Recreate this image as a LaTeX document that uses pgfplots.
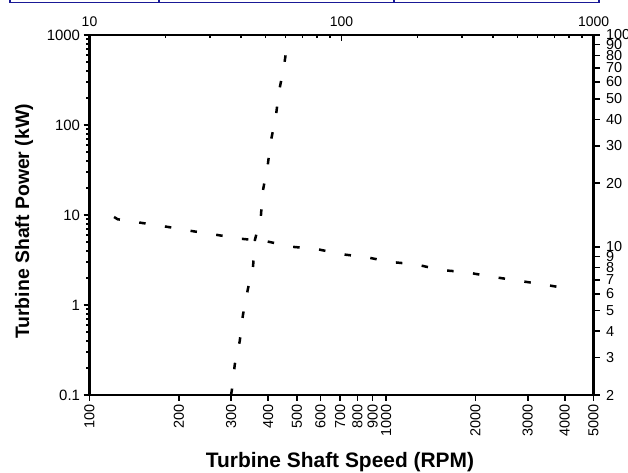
\documentclass[border=0pt]{standalone}
\usepackage{fontspec}
\setmainfont{Liberation Sans}
\usepackage{pgfplots}
\pgfplotsset{compat=1.18}
\definecolor{boxblue}{RGB}{25,25,150}

\begin{document}
\begin{tikzpicture}[x=1bp,y=1bp]
\path[use as bounding box] (0,0) rectangle (628,473);
% frame left over from the page
\draw[boxblue, line width=1.2bp] (10,473) -- (10,470.5) -- (599,470.5) -- (599,473);
\draw[boxblue, line width=1.2bp] (159,473) -- (159,470.5) (394,473) -- (394,470.5);

% speed (bottom) and power (left)
\begin{axis}[
  at={(89.5bp,78bp)}, anchor=south west,
  scale only axis, width=504bp, height=360bp,
  xmode=log, ymode=log,
  axis line style={line width=2.4bp},
  every tick/.style={black, line width=1.6bp},
  major tick length=6bp, minor tick length=3.5bp,
  /pgf/number format/assume math mode=true,
  xmin=100, xmax=5000, ymin=0.1, ymax=1000,
  axis x line*=bottom, axis y line*=left,
  tick align=outside,
  xtick={100,200,300,400,500,600,700,800,900,1000,2000,3000,4000,5000},
  xticklabels={100,200,300,400,500,600,700,800,900,1000,2000,3000,4000,5000},
  minor xtick={},
  x tick label style={rotate=90, anchor=east, font=\fontsize{14.5}{16}\selectfont},
  ytick={0.1,1,10,100,1000},
  yticklabels={0.1,1,10,100,1000},
  y tick label style={font=\fontsize{15}{17}\selectfont},
  xlabel={Turbine Shaft Speed (RPM)},
  xlabel style={font=\fontsize{21}{24}\selectfont\bfseries,
    at={(axis description cs:0.497,-0.185)}, anchor=center},
  ylabel={Turbine Shaft Power (kW)},
  ylabel style={font=\fontsize{19.5}{22}\selectfont\bfseries,
    at={(axis description cs:-0.13,0.482)}, anchor=center},
]
\addplot[black, line width=2.5bp, dash pattern=on 6.5bp off 19.5bp] coordinates {
  (300,0.1) (302,0.114) (309,0.221) (321,0.398) (329,0.774) (342,1.51)
  (356,2.71) (361,5.27) (378,9.5) (384,18.5) (399,35.9) (408,64.7)
  (425,126) (435,233) (452,441) (466,880) (473,950)
};
\addplot[black, line width=2.5bp, dash pattern=on 6.5bp off 19.5bp] coordinates {
  (121,9.5) (124.5,8.96) (150.6,8.15) (184.2,7.36) (220.9,6.64) (270.3,5.99)
  (323.8,5.45) (395.3,5.1) (479.7,4.44) (582.4,4.19) (710.3,3.66)
  (851.7,3.41) (1042,3.0) (1258,2.83) (1527,2.45) (1865,2.31)
  (2234,2.08) (2733,1.88) (3317,1.71) (4017,1.54) (4150,1.52)
};
\end{axis}

% top scale
\begin{axis}[
  at={(89.5bp,78bp)}, anchor=south west,
  scale only axis, width=504bp, height=360bp,
  xmode=log, ymode=log,
  axis line style={line width=2.4bp},
  every tick/.style={black, line width=1.6bp},
  major tick length=6bp, minor tick length=3.5bp,
  /pgf/number format/assume math mode=true,
  xmin=10, xmax=1000, ymin=2, ymax=100,
  axis x line*=top, hide y axis,
  tick align=inside,
  xtick={10,100,1000}, xticklabels={10,100,1000},
  minor xtick={20,30,40,50,60,70,80,90,200,300,400,500,600,700,800,900},
  x tick label style={font=\fontsize{14}{15}\selectfont, yshift=5bp},
]
\end{axis}

% right scale
\begin{axis}[
  at={(89.5bp,78bp)}, anchor=south west,
  scale only axis, width=504bp, height=360bp,
  xmode=log, ymode=log,
  axis line style={line width=2.4bp},
  every tick/.style={black, line width=1.6bp},
  major tick length=6bp, minor tick length=3.5bp,
  /pgf/number format/assume math mode=true,
  xmin=10, xmax=1000, ymin=2, ymax=100,
  axis y line*=right, hide x axis,
  tick align=outside,
  ytick={2,3,4,5,6,7,8,9,10,20,30,40,50,60,70,80,90,100},
  yticklabels={2,3,4,5,6,7,8,9,10,20,30,40,50,60,70,80,90,100},
  minor ytick={},
  y tick label style={font=\fontsize{14.5}{15}\selectfont, xshift=3bp},
]
\end{axis}
\end{tikzpicture}
\end{document}
